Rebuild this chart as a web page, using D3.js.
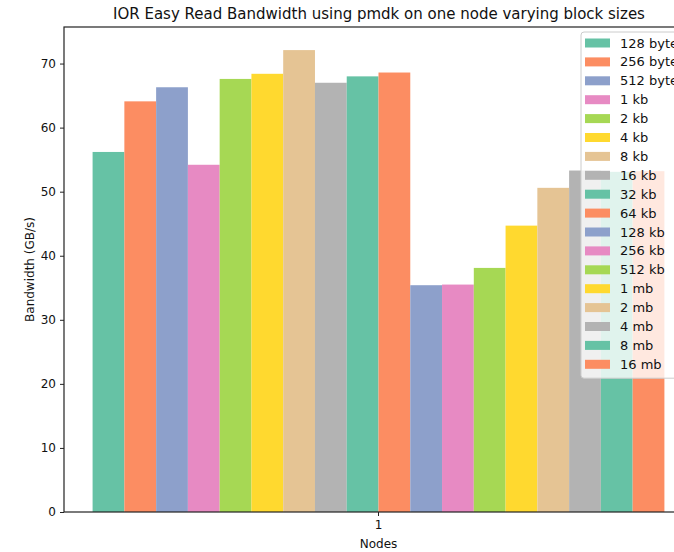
<!DOCTYPE html>
<head>
  <meta charset="utf-8">
  <script src="https://d3js.org/d3.v7.min.js"></script>
  <style>
    body { margin:0; background:#fff; }
    svg text { font-family: "DejaVu Sans", sans-serif; fill:#111; }
  </style>
</head>
<body>
<script>
  // data
  var nodes = ["1"]
  var sizes = ["128 byte", "256 byte", "512 byte", "1 kb", "2 kb", "4 kb", "8 kb", "16 kb",
               "32 kb", "64 kb", "128 kb", "256 kb", "512 kb", "1 mb", "2 mb", "4 mb", "8 mb", "16 mb"]
  var bandwidth = [56.2, 64.1, 66.3, 54.2, 67.6, 68.4, 72.1, 67.0,
                   68.0, 68.6, 35.4, 35.5, 38.1, 44.7, 50.6, 53.3, 53.1, 53.2]
  var yTicks = [0, 10, 20, 30, 40, 50, 60, 70]

  var W = 674, H = 552
  var axL = 64, axT = 27, axB = 512, axR = 693

  var svg = d3.select("body").append("svg")
    .attr("width", W).attr("height", H)

  var x = d3.scaleBand().domain(nodes).range([axL, axR]).paddingOuter(0.05).paddingInner(0)
  var xs = d3.scaleBand().domain(sizes).range([0, x.bandwidth()])
  var y = d3.scaleLinear().domain([0, d3.max(bandwidth) * 1.05]).range([axB, axT])
  var color = d3.scaleOrdinal().domain(sizes).range(d3.schemeSet2)

  // bars
  svg.append("g").selectAll("rect").data(sizes).enter()
    .append("rect")
    .attr("x", function(d) { return x("1") + xs(d) })
    .attr("y", function(d, i) { return y(bandwidth[i]) })
    .attr("width", xs.bandwidth())
    .attr("height", function(d, i) { return axB - y(bandwidth[i]) })
    .attr("fill", function(d) { return color(d) })

  // axes
  var yAxis = d3.axisLeft(y).tickValues(yTicks).tickSize(4).tickPadding(4)
  var gy = svg.append("g").attr("transform", "translate(" + axL + ",0)").call(yAxis)
  var xAxis = d3.axisBottom(x).tickSize(4).tickPadding(4)
  var gx = svg.append("g").attr("transform", "translate(0," + axB + ")").call(xAxis)
  ;[gx, gy].forEach(function(g) {
    g.select(".domain").remove()
    g.selectAll("text").style("font-size", "12px").style("font-family", "DejaVu Sans")
    g.selectAll("line").attr("stroke", "#222")
  })

  // spines
  svg.append("rect").attr("x", axL).attr("y", axT)
    .attr("width", axR - axL).attr("height", axB - axT)
    .attr("fill", "none").attr("stroke", "#222").attr("stroke-width", 1.2)

  // titles
  svg.append("text").attr("x", 379).attr("y", 19)
    .attr("text-anchor", "middle").style("font-size", "15px")
    .text("IOR Easy Read Bandwidth using pmdk on one node varying block sizes")
  svg.append("text").attr("x", x("1") + x.bandwidth() / 2).attr("y", 548)
    .attr("text-anchor", "middle").style("font-size", "12px").text("Nodes")
  svg.append("text").attr("transform", "translate(34," + (axT + axB) / 2 + ") rotate(-90)")
    .attr("text-anchor", "middle").style("font-size", "12px").text("Bandwidth (GB/s)")

  // legend
  var lx = 581, ly = 32, step = 18.9
  var lg = svg.append("g")
  lg.append("rect").attr("x", lx).attr("y", ly).attr("width", 110)
    .attr("height", step * sizes.length + 6).attr("rx", 3)
    .attr("fill", "#fff").attr("fill-opacity", 0.8).attr("stroke", "#ccc")
  var item = lg.selectAll("g.item").data(sizes).enter().append("g")
    .attr("transform", function(d, i) { return "translate(" + lx + "," + (ly + 11 + i * step) + ")" })
  item.append("rect").attr("x", 4).attr("y", -4.5).attr("width", 25).attr("height", 9)
    .attr("fill", function(d) { return color(d) })
  item.append("text").attr("x", 39).attr("y", 4.5).style("font-size", "13px").text(function(d) { return d })
</script>
</body>
